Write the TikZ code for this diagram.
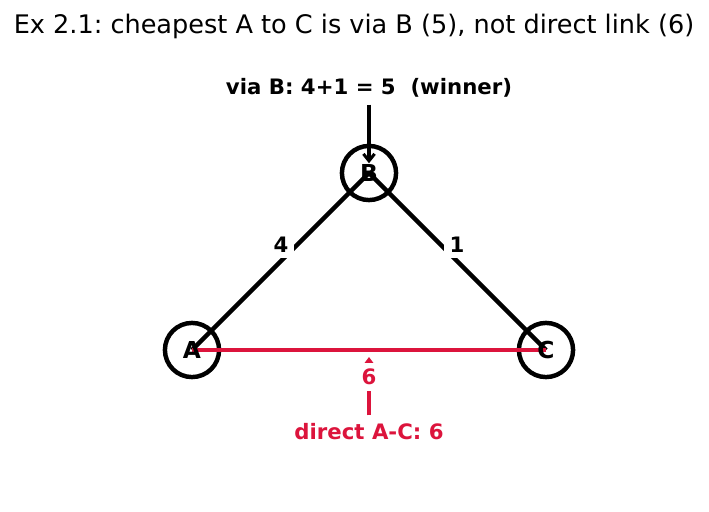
\documentclass[tikz,border=0pt]{standalone}
\usepackage{fontspec}
\setmainfont{DejaVu Sans}
\usetikzlibrary{arrows.meta}
\definecolor{crimson}{RGB}{220,20,60}
\frenchspacing

\begin{document}
\begin{tikzpicture}[x=0.72pt,y=-0.72pt]
      \tikzstyle{every node}+=[inner sep=0pt]
      \tikzstyle{vertex}=[circle,draw=black,line width=3.2pt,minimum size=39pt]
      \tikzstyle{letter}=[font=\fontsize{16.8}{19}\selectfont\bfseries]
      \tikzstyle{edge}=[line width=3.2pt]
      \tikzstyle{weight}=[fill=white,inner sep=4pt,font=\fontsize{15.3}{18}\selectfont\bfseries]
      \tikzstyle{note}=[font=\fontsize{15.3}{18}\selectfont\bfseries]
      \tikzstyle{pointer}=[line width=2.2pt,-{Straight Barb[length=5pt,width=8pt]}]
      \useasboundingbox (0,0) rectangle (709,512);
      \node (title) at (354,26) {\fontsize{18.4}{22}\selectfont Ex 2.1: cheapest A to C is via B (5), not direct link (6)};
      \node [vertex] (A) at (192,350) {};
      \node [vertex] (B) at (369,173) {};
      \node [vertex] (C) at (546,350) {};
      \coordinate (acmid) at (369,350);
      \draw [edge,black] (A.center) -- (B.center);
      \draw [edge,black] (B.center) -- (C.center);
      \draw [edge,crimson] (A.center) -- (C.center);
      \node [letter] (lA) at (A) {A};
      \node [letter] (lB) at (B) {B};
      \node [letter] (lC) at (C) {C};
      \node [weight] (wAB) at (281,245) {4};
      \node [weight] (wBC) at (457,245) {1};
      \node [note] (viaB) at (369,88) {via B: 4+1 = 5\ \ (winner)};
      \draw [pointer,black,shorten <=12pt,shorten >=7pt] (viaB.center) -- (B.center);
      \node [note,text=crimson] (direct) at (369,432) {direct A-C: 6};
      \draw [line width=2.2pt,crimson,-{Triangle[length=5pt,width=7pt]},shorten <=12pt,shorten >=5pt] (direct.center) -- (acmid);
      \node [weight,text=crimson] (wAC) at (369,377) {6};
\end{tikzpicture}
\end{document}
